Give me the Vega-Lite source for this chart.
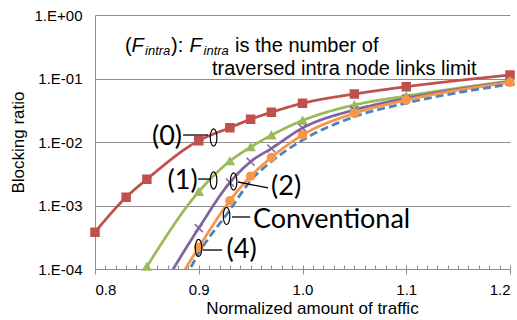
{
  "$schema": "https://vega.github.io/schema/vega-lite/v6.json",
  "width": 415,
  "height": 254,
  "autosize": {"type": "none"},
  "padding": {"left": 95, "top": 15, "right": 7, "bottom": 51},
  "background": "white",
  "config": {"view": {"stroke": null}, "font": "Liberation Sans"},
  "datasets": {
    "series": [
      {"series": "(0)", "traffic": 0.80, "ratio": 0.00038},
      {"series": "(0)", "traffic": 0.83, "ratio": 0.00135},
      {"series": "(0)", "traffic": 0.85, "ratio": 0.00259},
      {"series": "(0)", "traffic": 0.90, "ratio": 0.0105},
      {"series": "(0)", "traffic": 0.93, "ratio": 0.0168},
      {"series": "(0)", "traffic": 0.95, "ratio": 0.0228},
      {"series": "(0)", "traffic": 0.97, "ratio": 0.0294},
      {"series": "(0)", "traffic": 1.00, "ratio": 0.0407},
      {"series": "(0)", "traffic": 1.05, "ratio": 0.057},
      {"series": "(0)", "traffic": 1.10, "ratio": 0.0743},
      {"series": "(0)", "traffic": 1.20, "ratio": 0.1135},
      {"series": "(1)", "traffic": 0.85, "ratio": 0.000109},
      {"series": "(1)", "traffic": 0.90, "ratio": 0.00165},
      {"series": "(1)", "traffic": 0.93, "ratio": 0.005},
      {"series": "(1)", "traffic": 0.95, "ratio": 0.0083},
      {"series": "(1)", "traffic": 0.97, "ratio": 0.0128},
      {"series": "(1)", "traffic": 1.00, "ratio": 0.0218},
      {"series": "(1)", "traffic": 1.05, "ratio": 0.0383},
      {"series": "(1)", "traffic": 1.10, "ratio": 0.053},
      {"series": "(1)", "traffic": 1.20, "ratio": 0.0914},
      {"series": "(2)", "traffic": 0.85, "ratio": 0.00002},
      {"series": "(2)", "traffic": 0.90, "ratio": 0.00044},
      {"series": "(2)", "traffic": 0.93, "ratio": 0.0023},
      {"series": "(2)", "traffic": 0.95, "ratio": 0.0049},
      {"series": "(2)", "traffic": 0.97, "ratio": 0.0079},
      {"series": "(2)", "traffic": 1.00, "ratio": 0.0166},
      {"series": "(2)", "traffic": 1.05, "ratio": 0.032},
      {"series": "(2)", "traffic": 1.10, "ratio": 0.0488},
      {"series": "(2)", "traffic": 1.20, "ratio": 0.089},
      {"series": "(4)", "traffic": 0.85, "ratio": 0.000009},
      {"series": "(4)", "traffic": 0.90, "ratio": 0.00022},
      {"series": "(4)", "traffic": 0.93, "ratio": 0.00119},
      {"series": "(4)", "traffic": 0.95, "ratio": 0.0029},
      {"series": "(4)", "traffic": 0.97, "ratio": 0.0057},
      {"series": "(4)", "traffic": 1.00, "ratio": 0.0129},
      {"series": "(4)", "traffic": 1.05, "ratio": 0.0283},
      {"series": "(4)", "traffic": 1.10, "ratio": 0.0458},
      {"series": "(4)", "traffic": 1.20, "ratio": 0.087},
      {"series": "Conventional", "traffic": 0.85, "ratio": 0.000003},
      {"series": "Conventional", "traffic": 0.90, "ratio": 0.000177},
      {"series": "Conventional", "traffic": 0.93, "ratio": 0.00085},
      {"series": "Conventional", "traffic": 0.95, "ratio": 0.00246},
      {"series": "Conventional", "traffic": 0.97, "ratio": 0.0049},
      {"series": "Conventional", "traffic": 1.00, "ratio": 0.0107},
      {"series": "Conventional", "traffic": 1.05, "ratio": 0.025},
      {"series": "Conventional", "traffic": 1.10, "ratio": 0.041},
      {"series": "Conventional", "traffic": 1.20, "ratio": 0.081}
    ],
    "pointers": [
      {"label": "(0)", "x": 0.8849, "y": 0.01288, "x2": 0.9090, "y2": 0.01288},
      {"label": "(1)", "x": 0.8993, "y": 0.00261, "x2": 0.9109, "y2": 0.00261},
      {"label": "(2)", "x": 0.9379, "y": 0.002344, "x2": 0.9668, "y2": 0.001888},
      {"label": "Conventional", "x": 0.9321, "y": 0.000659, "x2": 0.9495, "y2": 0.000659},
      {"label": "(4)", "x": 0.9041, "y": 0.000199, "x2": 0.9225, "y2": 0.000199}
    ],
    "ellipses": [
      {"label": "(0)", "x": 0.9143, "y": 0.01178},
      {"label": "(1)", "x": 0.9143, "y": 0.00248},
      {"label": "(2)", "x": 0.9336, "y": 0.00239},
      {"label": "Conventional", "x": 0.9268, "y": 0.000684},
      {"label": "(4)", "x": 0.8998, "y": 0.000214}
    ],
    "labels": [
      {"text": "(0)", "x": 0.8694, "y": 0.012},
      {"text": "(1)", "x": 0.8844, "y": 0.00243},
      {"text": "(2)", "x": 0.9842, "y": 0.00195},
      {"text": "Conventional", "x": 1.028, "y": 0.000591},
      {"text": "(4)", "x": 0.9413, "y": 0.000199}
    ],
    "noteMain": [
      {"text": "(", "x": 0.8289, "y": 0.261},
      {"text": "):", "x": 0.8733, "y": 0.261},
      {"text": "is the number of", "x": 0.9350, "y": 0.261},
      {"text": "traversed intra node links limit", "x": 0.9128, "y": 0.1135}
    ],
    "noteItalic": [
      {"text": "F", "x": 0.8352, "y": 0.261},
      {"text": "F", "x": 0.8911, "y": 0.261}
    ],
    "noteSub": [
      {"text": "intra", "x": 0.8482, "y": 0.2344},
      {"text": "intra", "x": 0.9046, "y": 0.2344}
    ]
  },
  "layer": [
    {
      "layer": [
        {
          "data": {"name": "series"},
          "mark": {"type": "line", "interpolate": "monotone", "strokeWidth": 2.75, "clip": true},
          "encoding": {
            "x": {
              "field": "traffic", "type": "quantitative",
              "scale": {"domain": [0.8, 1.2], "nice": false, "zero": false},
              "axis": {
                "values": [0.8, 0.9, 1.0, 1.1, 1.2], "format": ".1f",
                "title": "Normalized amount of traffic", "grid": false,
                "domainColor": "#8c8c8c", "tickColor": "#8c8c8c", "tickSize": 5,
                "labelFont": "Liberation Sans", "labelFontSize": 15, "labelColor": "#000", "labelPadding": 8,
                "titleFont": "Liberation Sans", "titleFontSize": 17, "titleFontWeight": "normal", "titleColor": "#000", "titlePadding": 3, "titleX": 217
              }
            },
            "y": {
              "field": "ratio", "type": "quantitative",
              "scale": {"type": "log", "domain": [0.0001, 1], "nice": false},
              "axis": {
                "values": [0.0001, 0.001, 0.01, 0.1, 1],
                "labelExpr": "'1.E' + (datum.value >= 1 ? '+00' : '-0' + format(-round(log(datum.value)/LN10), 'd'))",
                "ticks": false, "grid": true, "gridColor": "#8c8c8c", "domainColor": "#8c8c8c",
                "labelFont": "Liberation Sans", "labelFontSize": 15, "labelColor": "#000", "labelPadding": 13,
                "title": "Blocking ratio", "titleFont": "Liberation Sans", "titleFontSize": 17, "titleFontWeight": "normal", "titleColor": "#000", "titlePadding": 7
              }
            },
            "color": {
              "field": "series", "type": "nominal",
              "scale": {"domain": ["(0)", "(1)", "(2)", "(4)", "Conventional"], "range": ["#C0504D", "#9BBB59", "#8064A2", "#F79646", "#4F81BD"]},
              "legend": null
            },
            "strokeDash": {
              "field": "series", "type": "nominal",
              "scale": {"domain": ["(0)", "(1)", "(2)", "(4)", "Conventional"], "range": [[1, 0], [1, 0], [1, 0], [1, 0], [8, 4]]},
              "legend": null
            }
          }
        },
        {
          "data": {"name": "series"},
          "transform": [{"filter": "datum.series != 'Conventional' && datum.ratio >= 0.0001"}],
          "mark": {"type": "point", "filled": true, "size": 64, "strokeWidth": 1.5, "opacity": 1},
          "encoding": {
            "x": {"field": "traffic", "type": "quantitative"},
            "y": {"field": "ratio", "type": "quantitative"},
            "shape": {
              "field": "series", "type": "nominal",
              "scale": {"domain": ["(0)", "(1)", "(2)", "(4)"], "range": ["square", "triangle-up", "M-1,-1L1,1M-1,1L1,-1", "circle"]},
              "legend": null
            },
            "fill": {
              "field": "series", "type": "nominal",
              "scale": {"domain": ["(0)", "(1)", "(2)", "(4)"], "range": ["#C0504D", "#9BBB59", "#8064A2", "#F79646"]},
              "legend": null
            },
            "stroke": {
              "field": "series", "type": "nominal",
              "scale": {"domain": ["(0)", "(1)", "(2)", "(4)"], "range": ["#C0504D", "#9BBB59", "#8064A2", "#F79646"]},
              "legend": null
            }
          }
        },
        {
          "data": {"name": "pointers"},
          "mark": {"type": "rule", "color": "#000", "strokeWidth": 1.3},
          "encoding": {
            "x": {"field": "x", "type": "quantitative"},
            "y": {"field": "y", "type": "quantitative"},
            "x2": {"field": "x2"},
            "y2": {"field": "y2"}
          }
        },
        {
          "data": {"name": "ellipses"},
          "mark": {"type": "point", "shape": "M0,-1A0.38,1,0,1,1,0,1A0.38,1,0,1,1,0,-1Z", "filled": false, "stroke": "#000", "strokeWidth": 1.2, "size": 300, "opacity": 1},
          "encoding": {
            "x": {"field": "x", "type": "quantitative"},
            "y": {"field": "y", "type": "quantitative"}
          }
        },
        {
          "data": {"name": "labels"},
          "mark": {"type": "text", "font": "Lato", "fontSize": 27, "align": "center", "baseline": "middle", "color": "#000"},
          "encoding": {
            "x": {"field": "x", "type": "quantitative"},
            "y": {"field": "y", "type": "quantitative"},
            "text": {"field": "text"}
          }
        },
        {
          "data": {"name": "noteMain"},
          "mark": {"type": "text", "font": "Liberation Sans", "fontSize": 20, "align": "left", "baseline": "alphabetic", "color": "#000"},
          "encoding": {
            "x": {"field": "x", "type": "quantitative"},
            "y": {"field": "y", "type": "quantitative"},
            "text": {"field": "text"}
          }
        },
        {
          "data": {"name": "noteItalic"},
          "mark": {"type": "text", "font": "Liberation Sans", "fontSize": 20, "fontStyle": "italic", "align": "left", "baseline": "alphabetic", "color": "#000"},
          "encoding": {
            "x": {"field": "x", "type": "quantitative"},
            "y": {"field": "y", "type": "quantitative"},
            "text": {"field": "text"}
          }
        },
        {
          "data": {"name": "noteSub"},
          "mark": {"type": "text", "font": "Liberation Sans", "fontSize": 13, "fontStyle": "italic", "align": "left", "baseline": "alphabetic", "color": "#000"},
          "encoding": {
            "x": {"field": "x", "type": "quantitative"},
            "y": {"field": "y", "type": "quantitative"},
            "text": {"field": "text"}
          }
        }
      ]
    },
    {
      "data": {"name": "series"},
      "mark": {"type": "rule", "opacity": 0},
      "encoding": {
        "x": {
          "field": "traffic", "type": "quantitative",
          "axis": {
            "orient": "top", "offset": -254,
            "values": [0.8, 0.81, 0.82, 0.83, 0.84, 0.85, 0.86, 0.87, 0.88, 0.89, 0.9, 0.91, 0.92, 0.93, 0.94, 0.95, 0.96, 0.97, 0.98, 0.99, 1.0, 1.01, 1.02, 1.03, 1.04, 1.05, 1.06, 1.07, 1.08, 1.09, 1.1, 1.11, 1.12, 1.13, 1.14, 1.15, 1.16, 1.17, 1.18, 1.19, 1.2],
            "labels": false, "domain": false, "grid": false, "title": null,
            "tickSize": 4, "tickColor": "#8c8c8c"
          }
        }
      }
    }
  ],
  "resolve": {"axis": {"x": "independent"}}
}
